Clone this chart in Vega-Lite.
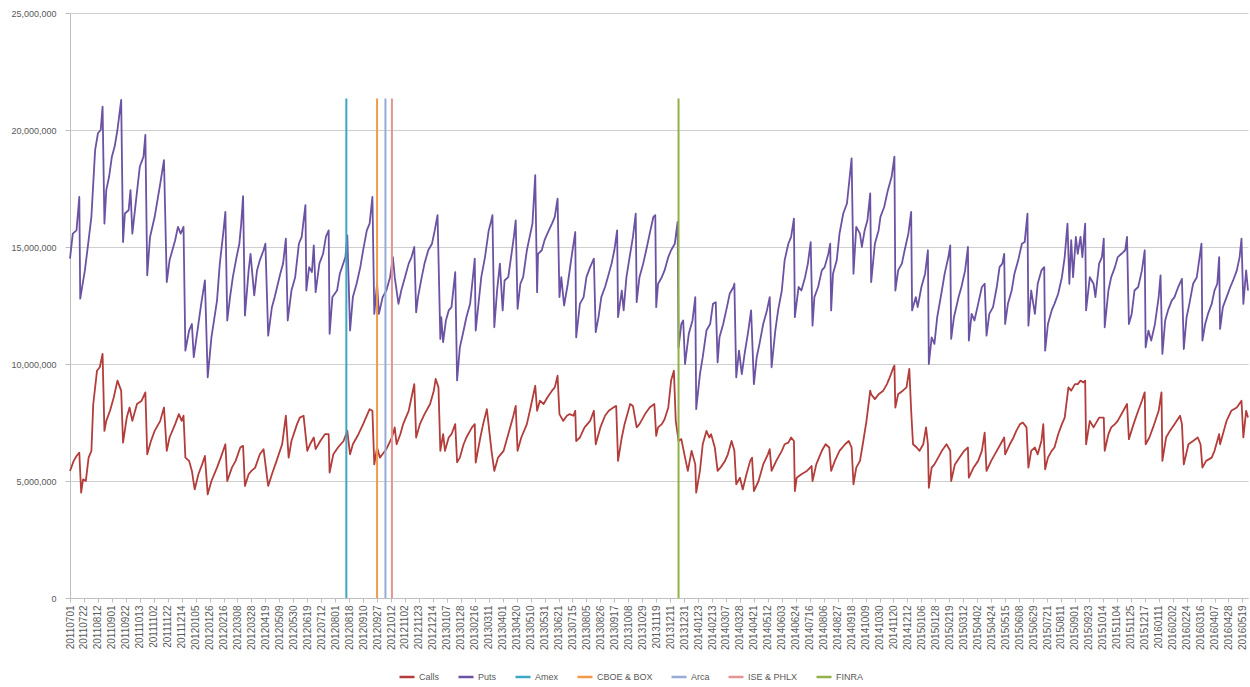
{
"$schema": "https://vega.github.io/schema/vega-lite/v6.json",
"width": 1178,
"height": 585,
"autosize": {"type": "none"},
"padding": {"left": 70, "top": 13, "right": 2, "bottom": 89},
"background": "white",
"config": {"view": {"stroke": null}, "font": "Liberation Sans"},
"datasets": {
"events": [
{"name": "Amex", "day": 297},
{"name": "CBOE & BOX", "day": 330},
{"name": "Arca", "day": 339},
{"name": "ISE & PHLX", "day": 346},
{"name": "FINRA", "day": 654}
],
"puts": [
{"day":0,"v":14500000},{"day":3,"v":15570000},{"day":7,"v":15710000},{"day":10,"v":17140000},{"day":11,"v":12790000},{"day":16,"v":14000000},{"day":20,"v":15290000},{"day":23,"v":16290000},{"day":27,"v":19140000},{"day":30,"v":19860000},{"day":33,"v":20000000},{"day":35,"v":21000000},{"day":37,"v":16000000},{"day":39,"v":17430000},{"day":42,"v":18000000},{"day":45,"v":18860000},{"day":48,"v":19290000},{"day":51,"v":20000000},{"day":55,"v":21290000},{"day":57,"v":15210000},{"day":59,"v":16430000},{"day":63,"v":16570000},{"day":65,"v":17430000},{"day":67,"v":15570000},{"day":71,"v":17000000},{"day":75,"v":18430000},{"day":79,"v":18860000},{"day":81,"v":19790000},{"day":83,"v":13790000},{"day":86,"v":15430000},{"day":91,"v":16290000},{"day":97,"v":17710000},{"day":101,"v":18710000},{"day":104,"v":13500000},{"day":107,"v":14430000},{"day":113,"v":15290000},{"day":116,"v":15860000},{"day":119,"v":15570000},{"day":122,"v":15860000},{"day":124,"v":10570000},{"day":128,"v":11430000},{"day":131,"v":11710000},{"day":133,"v":10290000},{"day":138,"v":11710000},{"day":141,"v":12570000},{"day":145,"v":13570000},{"day":148,"v":9430000},{"day":152,"v":11140000},{"day":158,"v":12710000},{"day":161,"v":14290000},{"day":165,"v":15710000},{"day":167,"v":16500000},{"day":169,"v":11860000},{"day":172,"v":12860000},{"day":175,"v":13710000},{"day":179,"v":14570000},{"day":182,"v":15140000},{"day":184,"v":16000000},{"day":186,"v":17170000},{"day":188,"v":12070000},{"day":192,"v":14000000},{"day":194,"v":14710000},{"day":198,"v":12930000},{"day":201,"v":14000000},{"day":204,"v":14430000},{"day":208,"v":14860000},{"day":210,"v":15140000},{"day":213,"v":11210000},{"day":217,"v":12430000},{"day":220,"v":12860000},{"day":226,"v":13860000},{"day":229,"v":14290000},{"day":232,"v":15360000},{"day":234,"v":11860000},{"day":238,"v":13140000},{"day":242,"v":13710000},{"day":246,"v":15140000},{"day":249,"v":15430000},{"day":253,"v":16790000},{"day":254,"v":13140000},{"day":257,"v":14140000},{"day":260,"v":13930000},{"day":262,"v":15070000},{"day":264,"v":13070000},{"day":268,"v":14290000},{"day":272,"v":14710000},{"day":275,"v":15430000},{"day":278,"v":15710000},{"day":279,"v":11290000},{"day":282,"v":12860000},{"day":287,"v":13140000},{"day":290,"v":13860000},{"day":296,"v":14570000},{"day":298,"v":15500000},{"day":301,"v":11430000},{"day":304,"v":12860000},{"day":308,"v":13430000},{"day":312,"v":14140000},{"day":315,"v":14860000},{"day":319,"v":15710000},{"day":322,"v":16000000},{"day":325,"v":17140000},{"day":327,"v":12140000},{"day":330,"v":13430000},{"day":332,"v":12140000},{"day":336,"v":12860000},{"day":340,"v":13140000},{"day":344,"v":13710000},{"day":347,"v":14570000},{"day":349,"v":13710000},{"day":353,"v":12570000},{"day":356,"v":13140000},{"day":360,"v":13710000},{"day":364,"v":14290000},{"day":367,"v":14570000},{"day":370,"v":15000000},{"day":372,"v":12210000},{"day":374,"v":12860000},{"day":378,"v":13710000},{"day":381,"v":14290000},{"day":385,"v":14860000},{"day":389,"v":15140000},{"day":392,"v":15710000},{"day":395,"v":16360000},{"day":398,"v":11070000},{"day":399,"v":12000000},{"day":401,"v":10930000},{"day":404,"v":11860000},{"day":407,"v":12290000},{"day":410,"v":12430000},{"day":414,"v":13930000},{"day":416,"v":9300000},{"day":419,"v":10710000},{"day":423,"v":11430000},{"day":426,"v":12000000},{"day":430,"v":12570000},{"day":433,"v":13710000},{"day":435,"v":14500000},{"day":436,"v":11430000},{"day":439,"v":12570000},{"day":442,"v":13710000},{"day":446,"v":14570000},{"day":450,"v":15710000},{"day":452,"v":16000000},{"day":454,"v":16360000},{"day":456,"v":11570000},{"day":459,"v":13140000},{"day":462,"v":14290000},{"day":465,"v":12290000},{"day":467,"v":13570000},{"day":471,"v":13710000},{"day":475,"v":14860000},{"day":477,"v":15430000},{"day":479,"v":16140000},{"day":481,"v":12360000},{"day":484,"v":13430000},{"day":487,"v":13710000},{"day":491,"v":14860000},{"day":494,"v":15430000},{"day":497,"v":16000000},{"day":500,"v":18070000},{"day":502,"v":13070000},{"day":503,"v":14710000},{"day":507,"v":14860000},{"day":510,"v":15290000},{"day":513,"v":15570000},{"day":518,"v":16000000},{"day":521,"v":16290000},{"day":524,"v":17070000},{"day":526,"v":12860000},{"day":528,"v":13710000},{"day":531,"v":12500000},{"day":535,"v":13430000},{"day":539,"v":14570000},{"day":543,"v":15640000},{"day":544,"v":11140000},{"day":548,"v":12570000},{"day":552,"v":12860000},{"day":555,"v":13710000},{"day":559,"v":14140000},{"day":563,"v":14500000},{"day":565,"v":11360000},{"day":568,"v":12000000},{"day":571,"v":12860000},{"day":575,"v":13290000},{"day":578,"v":13710000},{"day":582,"v":14290000},{"day":585,"v":14860000},{"day":588,"v":15710000},{"day":589,"v":12000000},{"day":593,"v":13140000},{"day":595,"v":12290000},{"day":598,"v":13710000},{"day":602,"v":14710000},{"day":605,"v":15430000},{"day":608,"v":16430000},{"day":609,"v":12640000},{"day":612,"v":13710000},{"day":616,"v":14290000},{"day":620,"v":15000000},{"day":623,"v":15570000},{"day":627,"v":16290000},{"day":629,"v":16360000},{"day":630,"v":12430000},{"day":632,"v":13430000},{"day":636,"v":13710000},{"day":639,"v":14000000},{"day":643,"v":14570000},{"day":646,"v":14860000},{"day":650,"v":15140000},{"day":653,"v":16070000},{"day":654,"v":10710000},{"day":657,"v":11710000},{"day":659,"v":11860000},{"day":661,"v":10000000},{"day":665,"v":11290000},{"day":669,"v":11860000},{"day":672,"v":12860000},{"day":673,"v":8070000},{"day":677,"v":9570000},{"day":680,"v":10290000},{"day":684,"v":11430000},{"day":688,"v":11710000},{"day":691,"v":12570000},{"day":694,"v":12640000},{"day":696,"v":10070000},{"day":698,"v":11140000},{"day":702,"v":11710000},{"day":706,"v":12430000},{"day":709,"v":13000000},{"day":713,"v":13290000},{"day":714,"v":13430000},{"day":716,"v":9430000},{"day":719,"v":10570000},{"day":722,"v":9570000},{"day":725,"v":10430000},{"day":729,"v":11430000},{"day":732,"v":12290000},{"day":735,"v":9140000},{"day":738,"v":10290000},{"day":741,"v":10860000},{"day":745,"v":11710000},{"day":749,"v":12290000},{"day":752,"v":12860000},{"day":754,"v":9860000},{"day":758,"v":11430000},{"day":761,"v":12290000},{"day":765,"v":13140000},{"day":768,"v":14430000},{"day":772,"v":15140000},{"day":775,"v":15430000},{"day":778,"v":16210000},{"day":779,"v":12000000},{"day":783,"v":13290000},{"day":786,"v":13140000},{"day":790,"v":13710000},{"day":793,"v":14290000},{"day":796,"v":15210000},{"day":798,"v":11640000},{"day":800,"v":12860000},{"day":804,"v":13290000},{"day":808,"v":14000000},{"day":811,"v":14140000},{"day":815,"v":14710000},{"day":817,"v":15140000},{"day":818,"v":12290000},{"day":820,"v":13860000},{"day":824,"v":14430000},{"day":827,"v":15570000},{"day":831,"v":16430000},{"day":835,"v":16860000},{"day":840,"v":18790000},{"day":842,"v":13860000},{"day":845,"v":15860000},{"day":849,"v":15570000},{"day":851,"v":15000000},{"day":854,"v":15710000},{"day":857,"v":16140000},{"day":860,"v":17290000},{"day":861,"v":13500000},{"day":865,"v":15140000},{"day":869,"v":15710000},{"day":871,"v":16290000},{"day":875,"v":16710000},{"day":879,"v":17430000},{"day":883,"v":18000000},{"day":886,"v":18860000},{"day":887,"v":13140000},{"day":890,"v":14000000},{"day":894,"v":14290000},{"day":897,"v":14860000},{"day":901,"v":15570000},{"day":904,"v":16500000},{"day":905,"v":12290000},{"day":909,"v":12860000},{"day":911,"v":12430000},{"day":915,"v":13290000},{"day":919,"v":13860000},{"day":922,"v":14860000},{"day":923,"v":10000000},{"day":926,"v":11140000},{"day":929,"v":10860000},{"day":932,"v":12000000},{"day":937,"v":13140000},{"day":940,"v":13860000},{"day":944,"v":14570000},{"day":946,"v":15070000},{"day":947,"v":11070000},{"day":950,"v":12000000},{"day":955,"v":12860000},{"day":958,"v":13290000},{"day":962,"v":14000000},{"day":965,"v":15000000},{"day":966,"v":11000000},{"day":969,"v":12140000},{"day":972,"v":11860000},{"day":976,"v":12570000},{"day":980,"v":13290000},{"day":983,"v":13430000},{"day":985,"v":11210000},{"day":988,"v":12140000},{"day":992,"v":12430000},{"day":996,"v":13290000},{"day":999,"v":14140000},{"day":1002,"v":14290000},{"day":1004,"v":14710000},{"day":1005,"v":11710000},{"day":1008,"v":12570000},{"day":1012,"v":13140000},{"day":1015,"v":13860000},{"day":1019,"v":14430000},{"day":1023,"v":15140000},{"day":1026,"v":15210000},{"day":1029,"v":16430000},{"day":1030,"v":11640000},{"day":1033,"v":13140000},{"day":1037,"v":12140000},{"day":1040,"v":13430000},{"day":1044,"v":14000000},{"day":1047,"v":14140000},{"day":1048,"v":10570000},{"day":1051,"v":11710000},{"day":1055,"v":12290000},{"day":1058,"v":12570000},{"day":1062,"v":13000000},{"day":1066,"v":13710000},{"day":1069,"v":14570000},{"day":1072,"v":16000000},{"day":1074,"v":13430000},{"day":1076,"v":15290000},{"day":1078,"v":13710000},{"day":1081,"v":15430000},{"day":1083,"v":14710000},{"day":1086,"v":15430000},{"day":1088,"v":14570000},{"day":1091,"v":16000000},{"day":1092,"v":12290000},{"day":1096,"v":13710000},{"day":1100,"v":13430000},{"day":1102,"v":12860000},{"day":1106,"v":14290000},{"day":1109,"v":14570000},{"day":1111,"v":15360000},{"day":1112,"v":11570000},{"day":1116,"v":13140000},{"day":1119,"v":13710000},{"day":1123,"v":14140000},{"day":1126,"v":14570000},{"day":1130,"v":14710000},{"day":1134,"v":14860000},{"day":1136,"v":15430000},{"day":1138,"v":11710000},{"day":1141,"v":12140000},{"day":1144,"v":13140000},{"day":1148,"v":13290000},{"day":1152,"v":14000000},{"day":1155,"v":14860000},{"day":1156,"v":10710000},{"day":1159,"v":11430000},{"day":1162,"v":11000000},{"day":1166,"v":11710000},{"day":1170,"v":12860000},{"day":1172,"v":13790000},{"day":1174,"v":10430000},{"day":1177,"v":11860000},{"day":1180,"v":12290000},{"day":1184,"v":12710000},{"day":1187,"v":12860000},{"day":1191,"v":13290000},{"day":1195,"v":13640000},{"day":1197,"v":10640000},{"day":1200,"v":12000000},{"day":1203,"v":12570000},{"day":1207,"v":13430000},{"day":1211,"v":13710000},{"day":1213,"v":14290000},{"day":1216,"v":15140000},{"day":1217,"v":11000000},{"day":1220,"v":11710000},{"day":1223,"v":12140000},{"day":1227,"v":12570000},{"day":1230,"v":13140000},{"day":1233,"v":13430000},{"day":1235,"v":14570000},{"day":1236,"v":11500000},{"day":1239,"v":12430000},{"day":1243,"v":12860000},{"day":1247,"v":13290000},{"day":1250,"v":13570000},{"day":1254,"v":14000000},{"day":1257,"v":14570000},{"day":1259,"v":15360000},{"day":1261,"v":12570000},{"day":1264,"v":14000000},{"day":1266,"v":13140000}
],
"calls": [
{"day":0,"v":5430000},{"day":4,"v":5860000},{"day":7,"v":6070000},{"day":10,"v":6210000},{"day":12,"v":4500000},{"day":14,"v":5070000},{"day":17,"v":5000000},{"day":20,"v":6000000},{"day":23,"v":6290000},{"day":25,"v":8290000},{"day":29,"v":9710000},{"day":32,"v":9860000},{"day":35,"v":10430000},{"day":37,"v":7140000},{"day":39,"v":7570000},{"day":43,"v":8000000},{"day":47,"v":8570000},{"day":51,"v":9290000},{"day":55,"v":8860000},{"day":57,"v":6640000},{"day":61,"v":7710000},{"day":64,"v":8140000},{"day":67,"v":7570000},{"day":72,"v":8290000},{"day":77,"v":8430000},{"day":81,"v":8790000},{"day":83,"v":6140000},{"day":87,"v":6710000},{"day":91,"v":7140000},{"day":97,"v":7570000},{"day":101,"v":8140000},{"day":104,"v":6290000},{"day":107,"v":6860000},{"day":113,"v":7430000},{"day":117,"v":7860000},{"day":120,"v":7570000},{"day":122,"v":7790000},{"day":124,"v":6000000},{"day":128,"v":5860000},{"day":131,"v":5430000},{"day":134,"v":4640000},{"day":138,"v":5290000},{"day":142,"v":5710000},{"day":145,"v":6070000},{"day":148,"v":4430000},{"day":152,"v":5000000},{"day":158,"v":5570000},{"day":162,"v":6000000},{"day":167,"v":6570000},{"day":169,"v":5000000},{"day":174,"v":5570000},{"day":178,"v":5860000},{"day":183,"v":6430000},{"day":186,"v":6500000},{"day":188,"v":4790000},{"day":192,"v":5290000},{"day":195,"v":5430000},{"day":199,"v":5570000},{"day":204,"v":6140000},{"day":208,"v":6360000},{"day":213,"v":4790000},{"day":217,"v":5290000},{"day":222,"v":5860000},{"day":228,"v":6570000},{"day":232,"v":7790000},{"day":235,"v":6000000},{"day":238,"v":6710000},{"day":244,"v":7430000},{"day":247,"v":7710000},{"day":251,"v":7790000},{"day":255,"v":6290000},{"day":258,"v":6570000},{"day":262,"v":6860000},{"day":264,"v":6360000},{"day":269,"v":6710000},{"day":274,"v":7000000},{"day":278,"v":7000000},{"day":279,"v":5360000},{"day":283,"v":6140000},{"day":288,"v":6430000},{"day":294,"v":6710000},{"day":298,"v":7140000},{"day":301,"v":6140000},{"day":304,"v":6570000},{"day":310,"v":7000000},{"day":315,"v":7430000},{"day":322,"v":8070000},{"day":325,"v":8000000},{"day":327,"v":5710000},{"day":330,"v":6430000},{"day":333,"v":6000000},{"day":337,"v":6210000},{"day":340,"v":6360000},{"day":346,"v":6860000},{"day":349,"v":7290000},{"day":351,"v":6570000},{"day":355,"v":7000000},{"day":358,"v":7430000},{"day":364,"v":8000000},{"day":367,"v":8570000},{"day":370,"v":9140000},{"day":372,"v":6860000},{"day":376,"v":7430000},{"day":381,"v":7860000},{"day":387,"v":8290000},{"day":391,"v":8860000},{"day":393,"v":9360000},{"day":396,"v":9000000},{"day":398,"v":6290000},{"day":401,"v":7000000},{"day":403,"v":6290000},{"day":407,"v":6860000},{"day":410,"v":7000000},{"day":414,"v":7430000},{"day":416,"v":5800000},{"day":419,"v":6000000},{"day":423,"v":6570000},{"day":426,"v":6860000},{"day":432,"v":7290000},{"day":435,"v":7430000},{"day":436,"v":5790000},{"day":441,"v":6860000},{"day":444,"v":7430000},{"day":448,"v":8070000},{"day":453,"v":6290000},{"day":456,"v":5430000},{"day":460,"v":6000000},{"day":466,"v":6290000},{"day":471,"v":7000000},{"day":476,"v":7710000},{"day":479,"v":8210000},{"day":481,"v":6290000},{"day":485,"v":6860000},{"day":491,"v":7430000},{"day":495,"v":8140000},{"day":500,"v":9070000},{"day":502,"v":8000000},{"day":505,"v":8430000},{"day":509,"v":8290000},{"day":513,"v":8570000},{"day":518,"v":8860000},{"day":521,"v":9000000},{"day":524,"v":9500000},{"day":526,"v":7860000},{"day":530,"v":7570000},{"day":534,"v":7790000},{"day":537,"v":7860000},{"day":541,"v":7790000},{"day":543,"v":8000000},{"day":544,"v":6710000},{"day":548,"v":6860000},{"day":553,"v":7290000},{"day":559,"v":7570000},{"day":563,"v":8000000},{"day":565,"v":6570000},{"day":570,"v":7290000},{"day":575,"v":7790000},{"day":579,"v":8000000},{"day":584,"v":8140000},{"day":587,"v":8210000},{"day":589,"v":5860000},{"day":593,"v":6860000},{"day":596,"v":7430000},{"day":602,"v":8290000},{"day":605,"v":8210000},{"day":609,"v":7290000},{"day":612,"v":7430000},{"day":618,"v":7860000},{"day":623,"v":8140000},{"day":628,"v":8290000},{"day":630,"v":6930000},{"day":632,"v":7290000},{"day":636,"v":7430000},{"day":639,"v":7640000},{"day":643,"v":8140000},{"day":646,"v":9290000},{"day":649,"v":9710000},{"day":651,"v":7570000},{"day":654,"v":6710000},{"day":657,"v":6790000},{"day":661,"v":6000000},{"day":664,"v":5430000},{"day":668,"v":6290000},{"day":672,"v":5710000},{"day":673,"v":4500000},{"day":677,"v":5430000},{"day":680,"v":6570000},{"day":684,"v":7140000},{"day":687,"v":6860000},{"day":689,"v":7000000},{"day":693,"v":6430000},{"day":696,"v":5430000},{"day":699,"v":5570000},{"day":704,"v":5860000},{"day":707,"v":6140000},{"day":711,"v":6710000},{"day":714,"v":6290000},{"day":716,"v":4860000},{"day":720,"v":5140000},{"day":723,"v":4640000},{"day":727,"v":5290000},{"day":731,"v":5860000},{"day":733,"v":6000000},{"day":735,"v":4570000},{"day":740,"v":5000000},{"day":745,"v":5710000},{"day":750,"v":6140000},{"day":752,"v":6360000},{"day":754,"v":5430000},{"day":759,"v":5860000},{"day":765,"v":6290000},{"day":768,"v":6570000},{"day":772,"v":6640000},{"day":775,"v":6860000},{"day":778,"v":6710000},{"day":779,"v":4570000},{"day":781,"v":5140000},{"day":786,"v":5290000},{"day":792,"v":5430000},{"day":797,"v":5640000},{"day":798,"v":5000000},{"day":802,"v":5710000},{"day":808,"v":6290000},{"day":812,"v":6570000},{"day":816,"v":6430000},{"day":818,"v":5430000},{"day":822,"v":5860000},{"day":827,"v":6290000},{"day":833,"v":6570000},{"day":837,"v":6710000},{"day":840,"v":6430000},{"day":842,"v":4860000},{"day":845,"v":5570000},{"day":849,"v":5860000},{"day":852,"v":6570000},{"day":856,"v":7570000},{"day":860,"v":8860000},{"day":861,"v":8710000},{"day":865,"v":8500000},{"day":869,"v":8710000},{"day":874,"v":8860000},{"day":878,"v":9140000},{"day":881,"v":9430000},{"day":885,"v":9860000},{"day":886,"v":9930000},{"day":887,"v":8140000},{"day":890,"v":8710000},{"day":895,"v":8860000},{"day":899,"v":9000000},{"day":902,"v":9790000},{"day":904,"v":8000000},{"day":906,"v":6570000},{"day":910,"v":6430000},{"day":913,"v":6290000},{"day":917,"v":6570000},{"day":920,"v":7290000},{"day":922,"v":6570000},{"day":923,"v":4710000},{"day":926,"v":5570000},{"day":929,"v":5710000},{"day":933,"v":6000000},{"day":937,"v":6290000},{"day":942,"v":6570000},{"day":946,"v":6290000},{"day":947,"v":5000000},{"day":951,"v":5710000},{"day":956,"v":6000000},{"day":961,"v":6290000},{"day":965,"v":6430000},{"day":966,"v":5140000},{"day":971,"v":5570000},{"day":976,"v":5860000},{"day":980,"v":6290000},{"day":983,"v":7070000},{"day":985,"v":5430000},{"day":990,"v":5860000},{"day":996,"v":6290000},{"day":1000,"v":6570000},{"day":1004,"v":6860000},{"day":1005,"v":6140000},{"day":1010,"v":6570000},{"day":1014,"v":6860000},{"day":1017,"v":7140000},{"day":1021,"v":7430000},{"day":1024,"v":7500000},{"day":1028,"v":7290000},{"day":1030,"v":5570000},{"day":1033,"v":6290000},{"day":1037,"v":6430000},{"day":1040,"v":6140000},{"day":1044,"v":6710000},{"day":1046,"v":7430000},{"day":1048,"v":5500000},{"day":1051,"v":6000000},{"day":1055,"v":6290000},{"day":1058,"v":6430000},{"day":1062,"v":7000000},{"day":1066,"v":7430000},{"day":1069,"v":7710000},{"day":1073,"v":9000000},{"day":1076,"v":8860000},{"day":1080,"v":9140000},{"day":1083,"v":9140000},{"day":1086,"v":9290000},{"day":1089,"v":9210000},{"day":1091,"v":9290000},{"day":1092,"v":6570000},{"day":1096,"v":7570000},{"day":1100,"v":7290000},{"day":1102,"v":7430000},{"day":1106,"v":7710000},{"day":1111,"v":7710000},{"day":1112,"v":6290000},{"day":1116,"v":7000000},{"day":1119,"v":7290000},{"day":1123,"v":7430000},{"day":1126,"v":7570000},{"day":1132,"v":8000000},{"day":1136,"v":8290000},{"day":1138,"v":6790000},{"day":1143,"v":7430000},{"day":1148,"v":8000000},{"day":1152,"v":8430000},{"day":1155,"v":8790000},{"day":1156,"v":6570000},{"day":1160,"v":6860000},{"day":1164,"v":7290000},{"day":1170,"v":8000000},{"day":1173,"v":8790000},{"day":1174,"v":5860000},{"day":1178,"v":6860000},{"day":1182,"v":7140000},{"day":1187,"v":7430000},{"day":1193,"v":7790000},{"day":1195,"v":7430000},{"day":1197,"v":5710000},{"day":1202,"v":6570000},{"day":1207,"v":6710000},{"day":1212,"v":6860000},{"day":1215,"v":6570000},{"day":1217,"v":5570000},{"day":1221,"v":5860000},{"day":1227,"v":6000000},{"day":1230,"v":6290000},{"day":1235,"v":7000000},{"day":1236,"v":6570000},{"day":1243,"v":7570000},{"day":1248,"v":8000000},{"day":1254,"v":8140000},{"day":1259,"v":8430000},{"day":1261,"v":6860000},{"day":1264,"v":8000000},{"day":1266,"v":7710000}
]
},
"encoding": {
"x": {"field": "day", "type": "quantitative",
"scale": {"domain": [0, 1266], "nice": false, "zero": false},
"axis": {
"title": null, "grid": false,
"values": [0,15,30,45,60,75,90,105,120,135,150,165,180,195,210,225,240,255,270,285,300,315,330,345,360,375,390,405,420,435,450,465,480,495,510,525,540,555,570,585,600,615,630,645,660,675,690,705,720,735,750,765,780,795,810,825,840,855,870,885,900,915,930,945,960,975,990,1005,1020,1035,1050,1065,1080,1095,1110,1125,1140,1155,1170,1185,1200,1215,1230,1245,1260],
"labelExpr": "['20110701','20110722','20110812','20110901','20110922','20111013','20111102','20111122','20111214','20120105','20120126','20120216','20120308','20120328','20120419','20120509','20120530','20120619','20120712','20120801','20120818','20120910','20120927','20121012','20121102','20121123','20121214','20130107','20130128','20130216','20130311','20130401','20130420','20130510','20130531','20130621','20130715','20130805','20130826','20130917','20131008','20131029','20131119','20131211','20131231','20140123','20140213','20140307','20140328','20140421','20140512','20140603','20140624','20140716','20140806','20140827','20140918','20141009','20141030','20141120','20141212','20150106','20150128','20150219','20150312','20150402','20150424','20150515','20150608','20150629','20150721','20150811','20150901','20150923','20151014','20151104','20151125','20151217','20160111','20160202','20160224','20160316','20160407','20160428','20160519'][round(datum.value/15)]",
"labelAngle": -90, "labelFontSize": 10, "labelColor": "#595959",
"labelOverlap": false, "labelFlush": false, "labelBound": false, "labelPadding": 3,
"domainColor": "#BFBFBF", "tickColor": "#BFBFBF", "tickSize": 4
}
}
},
"layer": [
{
"data": {"name": "calls"},
"mark": {"type": "line", "strokeWidth": 1.8, "strokeJoin": "round"},
"encoding": {
"y": {"field": "v", "type": "quantitative",
"scale": {"domain": [0, 25000000], "nice": false},
"axis": {
"title": null, "values": [0,5000000,10000000,15000000,20000000,25000000],
"labelExpr": "format(datum.value, ',')", "labelFontSize": 9, "labelColor": "#595959", "labelPadding": 9,
"grid": true, "gridColor": "#CFCFCF", "domainColor": "#BFBFBF", "tickColor": "#BFBFBF", "tickSize": 5
}
},
"color": {"datum": "Calls", "type": "nominal",
"scale": {
"domain": ["Calls", "Puts", "Amex", "CBOE & BOX", "Arca", "ISE & PHLX", "FINRA"],
"range": ["#B23D3B", "#6B52A3", "#3FA6C4", "#F39A4A", "#97ABD6", "#E39592", "#92B247"]
},
"legend": {
"title": null, "orient": "none", "legendX": 328, "legendY": 655, "direction": "horizontal",
"symbolType": "stroke", "symbolSize": 225, "symbolStrokeWidth": 2.5,
"labelFontSize": 9, "labelColor": "#595959", "labelOffset": 3, "columnPadding": 13
}
}
}
},
{
"data": {"name": "puts"},
"mark": {"type": "line", "strokeWidth": 1.8, "strokeJoin": "round"},
"encoding": {
"y": {"field": "v", "type": "quantitative",
"scale": {"domain": [0, 25000000], "nice": false},
"axis": {
"title": null, "values": [0,5000000,10000000,15000000,20000000,25000000],
"labelExpr": "format(datum.value, ',')", "labelFontSize": 9, "labelColor": "#595959", "labelPadding": 9,
"grid": true, "gridColor": "#CFCFCF", "domainColor": "#BFBFBF", "tickColor": "#BFBFBF", "tickSize": 5
}
},
"color": {"datum": "Puts", "type": "nominal",
"scale": {
"domain": ["Calls", "Puts", "Amex", "CBOE & BOX", "Arca", "ISE & PHLX", "FINRA"],
"range": ["#B23D3B", "#6B52A3", "#3FA6C4", "#F39A4A", "#97ABD6", "#E39592", "#92B247"]
},
"legend": {
"title": null, "orient": "none", "legendX": 328, "legendY": 655, "direction": "horizontal",
"symbolType": "stroke", "symbolSize": 225, "symbolStrokeWidth": 2.5,
"labelFontSize": 9, "labelColor": "#595959", "labelOffset": 3, "columnPadding": 13
}
}
}
},
{
"data": {"name": "events"},
"mark": {"type": "rule", "strokeWidth": 2},
"encoding": {
"y": {"datum": 0, "type": "quantitative",
"scale": {"domain": [0, 25000000], "nice": false},
"axis": {
"title": null, "values": [0,5000000,10000000,15000000,20000000,25000000],
"labelExpr": "format(datum.value, ',')", "labelFontSize": 9, "labelColor": "#595959", "labelPadding": 9,
"grid": true, "gridColor": "#CFCFCF", "domainColor": "#BFBFBF", "tickColor": "#BFBFBF", "tickSize": 5
}
},
"y2": {"datum": 21350000},
"color": {"field": "name", "type": "nominal",
"scale": {
"domain": ["Calls", "Puts", "Amex", "CBOE & BOX", "Arca", "ISE & PHLX", "FINRA"],
"range": ["#B23D3B", "#6B52A3", "#3FA6C4", "#F39A4A", "#97ABD6", "#E39592", "#92B247"]
},
"legend": {
"title": null, "orient": "none", "legendX": 328, "legendY": 655, "direction": "horizontal",
"symbolType": "stroke", "symbolSize": 225, "symbolStrokeWidth": 2.5,
"labelFontSize": 9, "labelColor": "#595959", "labelOffset": 3, "columnPadding": 13
}
}
}
}
]
}
